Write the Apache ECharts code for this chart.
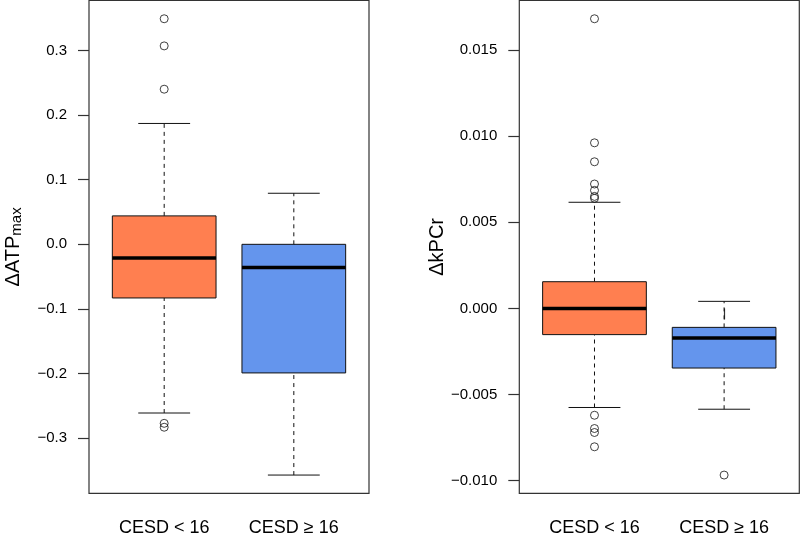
<!DOCTYPE html>
<html><head><meta charset="utf-8">
<script src="https://cdn.jsdelivr.net/npm/echarts@6/dist/echarts.min.js"></script>
<style>html,body{margin:0;padding:0;background:#fff}#c{width:800px;height:533px}</style>
</head><body><div id="c"></div>
<script>
const categories = ['CESD < 16', 'CESD \u2265 16'];
// each box: [lower whisker, Q1, median, Q3, upper whisker]
const atpBoxes = [[-0.261, -0.083, -0.021, 0.044, 0.187], [-0.357, -0.199, -0.036, 0.000, 0.079]];
const atpOutliers = [[0.349, 0.307, 0.240, -0.277, -0.283], []];
const pcrBoxes = [[-0.00575, -0.00152, 0.0, 0.00155, 0.00616], [-0.00585, -0.00346, -0.00172, -0.00110, 0.00041]];
const pcrOutliers = [[0.01681, 0.00961, 0.00851, 0.00722, 0.00685, 0.00650, 0.00639, -0.00620, -0.00697, -0.00720, -0.00803], [-0.00967]];
const atpTicks = [-0.3, -0.2, -0.1, 0.0, 0.1, 0.2, 0.3];
const pcrTicks = [-0.010, -0.005, 0.000, 0.005, 0.010, 0.015];
const boxColors = ['#FF7F50', '#6495ED'];

const FONT = "'Liberation Sans', Arial, Helvetica, sans-serif";
function extentOf(boxes, outs) {
  const all = boxes.flat().concat(outs.flat());
  const mn = Math.min(...all), mx = Math.max(...all);
  const pad = 0.04 * (mx - mn);
  return [mn - pad, mx + pad];
}
const atpExt = extentOf(atpBoxes, atpOutliers);
const pcrExt = extentOf(pcrBoxes, pcrOutliers);

function fmt(v, d) { const s = Math.abs(v).toFixed(d); return (v < -1e-12 ? '\u2212' : '') + s; }

function renderBox(params, api) {
  const x = api.value(0);
  const lo = api.coord([x, api.value(1)]);
  const q1 = api.coord([x, api.value(2)]);
  const md = api.coord([x, api.value(3)]);
  const q3 = api.coord([x, api.value(4)]);
  const hi = api.coord([x, api.value(5)]);
  const w = api.size([0.8, 0])[0];
  const cx = lo[0];
  const dash = { stroke: '#111', lineWidth: 1, lineDash: [4, 4] };
  const solid = { stroke: '#111', lineWidth: 1 };
  return {
    type: 'group',
    children: [
      { type: 'line', shape: { x1: cx, y1: lo[1], x2: cx, y2: q1[1] }, style: dash },
      { type: 'line', shape: { x1: cx, y1: q3[1], x2: cx, y2: hi[1] }, style: dash },
      { type: 'line', shape: { x1: cx - w / 4, y1: lo[1], x2: cx + w / 4, y2: lo[1] }, style: solid },
      { type: 'line', shape: { x1: cx - w / 4, y1: hi[1], x2: cx + w / 4, y2: hi[1] }, style: solid },
      { type: 'rect', shape: { x: cx - w / 2, y: q3[1], width: w, height: q1[1] - q3[1] }, style: { fill: boxColors[params.dataIndex], stroke: '#111', lineWidth: 1 } },
      { type: 'line', shape: { x1: cx - w / 2, y1: md[1], x2: cx + w / 2, y2: md[1] }, style: { stroke: '#000', lineWidth: 3.5 } }
    ]
  };
}

function grid(left) {
  return { left: left, top: 0.5, width: 280, height: 492.8, show: true, borderColor: '#333', borderWidth: 1.2, backgroundColor: 'transparent', outerBoundsMode: 'none', containLabel: false };
}
function xAxis(gi) {
  return {
    type: 'value', gridIndex: gi, min: 0.42, max: 2.58,
    axisLine: { show: false }, splitLine: { show: false },
    axisTick: { show: true, customValues: [1, 2], length: 11, lineStyle: { color: '#333', width: 1.2 } },
    axisLabel: { customValues: [1, 2], formatter: v => categories[Math.round(v) - 1], fontSize: 18, fontFamily: FONT, color: '#000', margin: 26 }
  };
}
function yAxis(gi, ext, ticks, dec, name, rich, gap) {
  return {
    type: 'value', gridIndex: gi, min: ext[0], max: ext[1],
    axisLine: { show: false }, splitLine: { show: false },
    axisTick: { show: true, customValues: ticks, length: 11, lineStyle: { color: '#333', width: 1.2 } },
    axisLabel: { customValues: ticks, formatter: v => fmt(v, dec), fontSize: 15, fontFamily: FONT, color: '#000', margin: 22 },
    name: name, nameLocation: 'middle', nameGap: gap,
    nameTextStyle: { fontSize: 20, fontFamily: FONT, color: '#000', rich: rich }
  };
}

const richATP = {
  a: { fontSize: 20, fontFamily: FONT, color: '#000', lineHeight: 22 },
  s: { fontSize: 15, fontFamily: FONT, color: '#000', lineHeight: 13, verticalAlign: 'bottom' }
};

const chart = echarts.init(document.getElementById('c'), null, { renderer: 'canvas' });
chart.setOption({
  animation: false,
  grid: [grid(89), grid(519.3)],
  xAxis: [xAxis(0), xAxis(1)],
  yAxis: [
    yAxis(0, atpExt, atpTicks, 1, '{a|\u0394ATP}{s|max}', richATP, 65),
    yAxis(1, pcrExt, pcrTicks, 3, '\u0394kPCr', undefined, 59)
  ],
  series: [
    { type: 'custom', xAxisIndex: 0, yAxisIndex: 0, renderItem: renderBox, encode: { x: 0, y: [1, 2, 3, 4, 5] },
      data: atpBoxes.map((b, i) => [i + 1].concat(b)) },
    { type: 'custom', xAxisIndex: 1, yAxisIndex: 1, renderItem: renderBox, encode: { x: 0, y: [1, 2, 3, 4, 5] },
      data: pcrBoxes.map((b, i) => [i + 1].concat(b)) },
    { type: 'scatter', xAxisIndex: 0, yAxisIndex: 0, symbol: 'circle', symbolSize: 8,
      itemStyle: { color: 'rgba(0,0,0,0)', borderColor: '#111', borderWidth: 1 },
      data: atpOutliers.flatMap((arr, i) => arr.map(v => [i + 1, v])) },
    { type: 'scatter', xAxisIndex: 1, yAxisIndex: 1, symbol: 'circle', symbolSize: 8,
      itemStyle: { color: 'rgba(0,0,0,0)', borderColor: '#111', borderWidth: 1 },
      data: pcrOutliers.flatMap((arr, i) => arr.map(v => [i + 1, v])) }
  ]
});
</script></body></html>
